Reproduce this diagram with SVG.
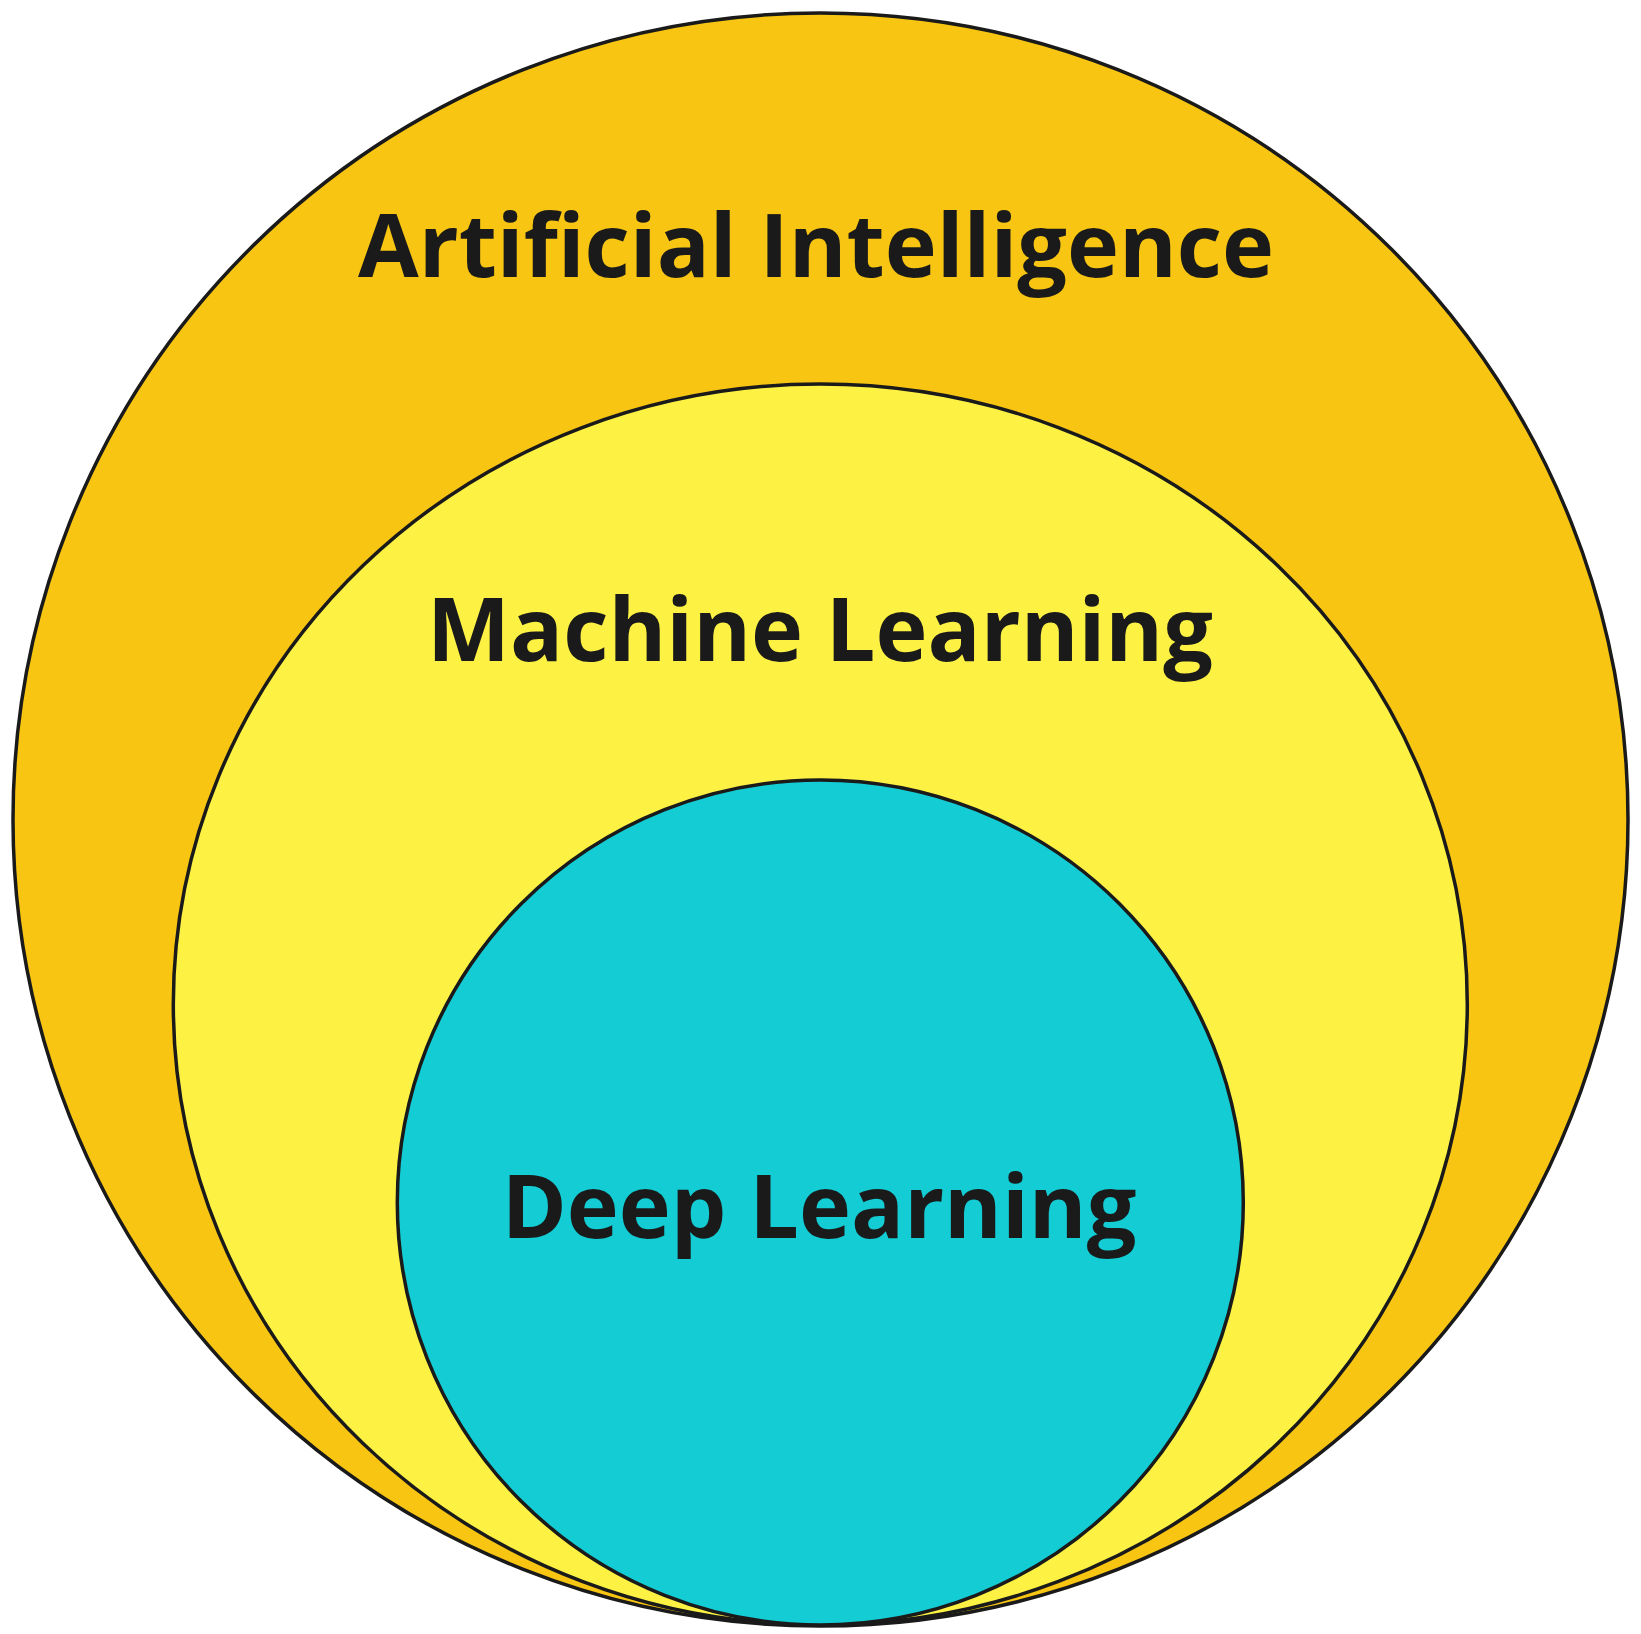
<svg xmlns="http://www.w3.org/2000/svg" width="1641" height="1634" viewBox="0 0 1641 1634">
<style>
.ring{stroke:#1a1a1a;stroke-width:3.5}
.lbl{font-family:"Open Sans","Liberation Sans",sans-serif;font-weight:700;font-size:88px;fill:#1a1a1a;text-anchor:middle}
</style>
<rect width="1641" height="1634" fill="#ffffff"/>
<g id="ai">
<ellipse class="ring" cx="820.5" cy="819.5" rx="807.5" ry="806.5" fill="#F8C612"/>
<text class="lbl" x="816" y="277">Artificial Intelligence</text>
</g>
<g id="ml">
<ellipse class="ring" cx="820.3" cy="1004.5" rx="647" ry="620.5" fill="#FDF244"/>
<text class="lbl" x="820" y="661">Machine Learning</text>
</g>
<g id="dl">
<ellipse class="ring" cx="820.3" cy="1202.5" rx="423" ry="422.5" fill="#13CCD4"/>
<text class="lbl" x="819" y="1238">Deep Learning</text>
</g>
<g id="connectors"></g>
</svg>
